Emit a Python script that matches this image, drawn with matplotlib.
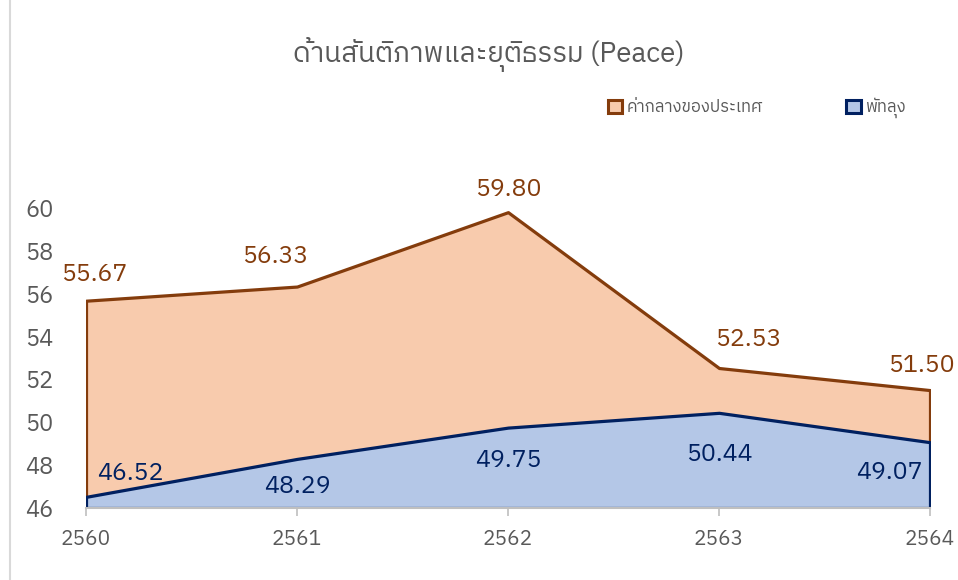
import matplotlib
matplotlib.use("Agg")
import matplotlib.pyplot as plt
from matplotlib import font_manager, ft2font
from matplotlib.lines import Line2D

years = ["2560", "2561", "2562", "2563", "2564"]
national = [55.67, 56.33, 59.80, 52.53, 51.50]
phatthalung = [46.52, 48.29, 49.75, 50.44, 49.07]
yticks = [46, 48, 50, 52, 54, 56, 58, 60]
title = "ด้านสันติภาพและยุติธรรม (Peace)"
series_names = ["ค่ากลางของประเทศ", "พัทลุง"]

# find a font with Thai glyphs
thai_fonts = []
for f in font_manager.fontManager.ttflist:
    try:
        ft = ft2font.FT2Font(f.fname)
        if ft.get_char_index(0x0E01) and f.name not in thai_fonts:
            thai_fonts.append(f.name)
    except Exception:
        pass
pref = [n for n in thai_fonts if "Thai" in n] + [n for n in thai_fonts if "Thai" not in n]
families = pref[:1] + ["Open Sans", "DejaVu Sans"]
plt.rcParams["font.family"] = families

fig = plt.figure(figsize=(9.58, 5.8), dpi=100)
ax = fig.add_axes([86/958, (580-508)/580, 844/958, 343/580])

x = list(range(len(years)))
o_fill, o_edge = "#F8CBAD", "#843C0C"
b_fill, b_edge = "#B4C7E7", "#002060"
grey = "#595959"

ax.fill_between(x, national, 46, facecolor=o_fill, edgecolor=o_edge, linewidth=2.3, zorder=2)
ax.fill_between(x, phatthalung, 46, facecolor=b_fill, edgecolor=b_edge, linewidth=2.3, zorder=3)

ax.set_xlim(0, len(years) - 1)
ax.set_ylim(46, 62)
ax.set_yticks(yticks)
ax.set_yticklabels([str(v) for v in yticks], fontsize=17, color=grey)
ax.set_xticks(x)
ax.set_xticklabels(years, fontsize=15, color=grey)
ax.tick_params(axis="y", length=0, pad=23.5)
ax.tick_params(axis="x", length=6, color="#BFBFBF", width=1.2, pad=10)
for s in ["top", "right", "left"]:
    ax.spines[s].set_visible(False)
ax.spines["bottom"].set_color("#BFBFBF")
ax.spines["bottom"].set_linewidth(1.5)
ax.spines["bottom"].set_zorder(5)

o_off = [(8, 26), (-22, 30), (0, 23), (29, 29), (-9, 25)]
b_off = [(44, 23), (0, -28), (0, -33), (0, -42), (-41, -30)]
for i, v in enumerate(national):
    ax.annotate(f"{v:.2f}", (x[i], v), xytext=o_off[i], textcoords="offset pixels",
                ha="center", va="center", fontsize=18, color=o_edge, zorder=6,
                annotation_clip=False)
for i, v in enumerate(phatthalung):
    ax.annotate(f"{v:.2f}", (x[i], v), xytext=b_off[i], textcoords="offset pixels",
                ha="center", va="center", fontsize=18, color=b_edge, zorder=6,
                annotation_clip=False)

fig.text(489/958, 1 - 55/580, title, ha="center", va="center", fontsize=20, color=grey)

# legend
handles = [plt.Rectangle((0, 0), 1, 1, facecolor=o_fill, edgecolor=o_edge, linewidth=2.2),
           plt.Rectangle((0, 0), 1, 1, facecolor=b_fill, edgecolor=b_edge, linewidth=2.2)]
fig.legend(handles, series_names, loc="center", bbox_to_anchor=(757/958, 1 - 108/580),
           ncol=2, frameon=False, fontsize=12, labelcolor=grey, handlelength=0.85,
           handleheight=0.85, handletextpad=0.3, columnspacing=5.0)

fig.add_artist(Line2D([10/958, 10/958], [0, 1], color="#D9D9D9", linewidth=1.5))

fig.savefig("out.png", dpi=100, facecolor="white")
